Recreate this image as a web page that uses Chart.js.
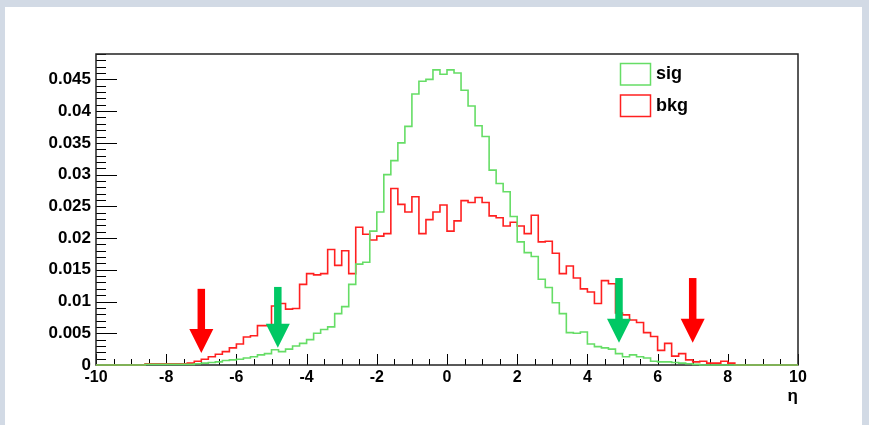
<!DOCTYPE html>
<html>
<head>
<meta charset="utf-8">
<script src="https://cdn.jsdelivr.net/npm/chart.js@4/dist/chart.umd.min.js"></script>
<style>
  html, body { margin: 0; padding: 0; background: #d2dae5; }
  #wrap { width: 869px; height: 425px; }
</style>
</head>
<body>
<div id="wrap"><canvas id="etaChart" width="869" height="425"></canvas></div>
<script>
// eta histograms, 100 bins from -10 to 10
const etaMin = -10;
const etaMax = 10;
const nBins = 100;

const sigValues = [
  0, 0, 0, 0, 0, 0, 0, 0.0001, 0.0001, 0.0001,
  0.0001, 0.0001, 0.0001, 0.0001, 0.0002, 0.0003, 0.0004, 0.0005, 0.0007, 0.0008,
  0.0009, 0.0011, 0.0013, 0.0016, 0.0018, 0.0024, 0.0021, 0.0025, 0.0030, 0.0034,
  0.0040, 0.0050, 0.0056, 0.0060, 0.0081, 0.0092, 0.0127, 0.0159, 0.0162, 0.0211,
  0.0241, 0.0300, 0.0322, 0.0350, 0.0376, 0.0427, 0.0447, 0.0450, 0.0465, 0.0458,
  0.0465, 0.0460, 0.0433, 0.0408, 0.0377, 0.0360, 0.0307, 0.0286, 0.0273, 0.0234,
  0.0194, 0.0177, 0.0171, 0.0135, 0.0122, 0.0098, 0.0081, 0.0051, 0.0050, 0.0052,
  0.0033, 0.0029, 0.0027, 0.0025, 0.0018, 0.0013, 0.0016, 0.0013, 0.0011, 0.0006,
  0.0005, 0.0005, 0.0004, 0.0003, 0.0002, 0.0001, 0, 0, 0, 0,
  0, 0, 0, 0, 0, 0, 0, 0, 0, 0
];

const bkgValues = [
  0, 0, 0, 0, 0, 0, 0, 0.0002, 0.0002, 0.0002,
  0.0002, 0.0002, 0.0002, 0.0003, 0.0006, 0.0009, 0.0013, 0.0017, 0.0021, 0.0027,
  0.0033, 0.0044, 0.0046, 0.0062, 0.0062, 0.0093, 0.0097, 0.0088, 0.0089, 0.0127,
  0.0144, 0.0142, 0.0144, 0.0182, 0.0157, 0.0180, 0.0144, 0.0217, 0.0206, 0.0197,
  0.0203, 0.0207, 0.0278, 0.0253, 0.0241, 0.0265, 0.0207, 0.0229, 0.0241, 0.0252,
  0.0211, 0.0227, 0.0259, 0.0256, 0.0264, 0.0256, 0.0235, 0.0232, 0.0219, 0.0225,
  0.0219, 0.0207, 0.0236, 0.0194, 0.0195, 0.0176, 0.0144, 0.0156, 0.0137, 0.0120,
  0.0115, 0.0097, 0.0133, 0.0128, 0.0082, 0.0079, 0.0071, 0.0067, 0.0051, 0.0045,
  0.0023, 0.0034, 0.0014, 0.0018, 0.0008, 0.0005, 0.0006, 0.0003, 0.0003, 0.0006,
  0.0003, 0, 0, 0, 0, 0, 0, 0, 0, 0
];

const seriesNames = ['sig', 'bkg'];
const seriesColors = ['#66dd66', '#ff2020'];

const yMax = 0.049;
const yTickValues = [0, 0.005, 0.01, 0.015, 0.02, 0.025, 0.03, 0.035, 0.04, 0.045];
const yTickLabels = ['0', '0.005', '0.01', '0.015', '0.02', '0.025', '0.03', '0.035', '0.04', '0.045'];
const xTickValues = [-10, -8, -6, -4, -2, 0, 2, 4, 6, 8, 10];

// cut markers
const arrowX = [-7.0, -4.82, 4.9, 7.0];
const arrowTop = [0.0120, 0.0123, 0.0137, 0.0137];
const arrowTip = [0.0019, 0.0027, 0.0035, 0.0035];
const arrowColors = ['#ff0000', '#00c864', '#00c864', '#ff0000'];

const labelFont = '"Liberation Sans", Arial, sans-serif';

function histPoints(values) {
    const w = (etaMax - etaMin) / nBins;
    const pts = values.map((v, i) => ({x: etaMin + i * w, y: v}));
    pts.push({x: etaMax, y: values[values.length - 1]});
    return pts;
}

const panelPlugin = {
    id: 'panel',
    beforeDraw(chart) {
        const ctx = chart.ctx;
        ctx.save();
        ctx.fillStyle = '#d2dae5';
        ctx.fillRect(0, 0, chart.width, chart.height);
        ctx.fillStyle = '#ffffff';
        ctx.fillRect(5, 7, chart.width - 12, chart.height - 7);
        ctx.restore();
    }
};

// frame with inward ticks, drawn under the histograms
const frameTicksPlugin = {
    id: 'frameTicks',
    beforeDatasetsDraw(chart) {
        const ctx = chart.ctx;
        const {left, right, top, bottom} = chart.chartArea;
        const xs = chart.scales.x, ys = chart.scales.y;
        ctx.save();
        ctx.strokeStyle = '#000';
        ctx.lineWidth = 1;
        ctx.beginPath();
        for (let i = 0; i * 0.001 <= yMax + 1e-9; i++) {
            const py = Math.round(ys.getPixelForValue(i * 0.001)) + 0.5;
            const len = (i % 5 === 0) ? 21 : 10;
            ctx.moveTo(left, py);
            ctx.lineTo(left + len, py);
        }
        for (let i = 0; i <= 40; i++) {
            const px = Math.round(xs.getPixelForValue(etaMin + i * 0.5)) + 0.5;
            const len = (i % 4 === 0) ? 11 : 6;
            ctx.moveTo(px, bottom);
            ctx.lineTo(px, bottom - len);
        }
        ctx.stroke();
        ctx.lineWidth = 1.5;
        ctx.strokeStyle = '#222';
        ctx.strokeRect(left, top, right - left, bottom - top);
        ctx.restore();
    },
    afterDraw(chart) {
        const ctx = chart.ctx;
        ctx.save();
        ctx.fillStyle = '#000';
        ctx.font = 'bold 17px ' + labelFont;
        ctx.textAlign = 'right';
        ctx.textBaseline = 'middle';
        ctx.fillText('\u03b7', chart.chartArea.right, 396);
        ctx.restore();
    }
};

const arrowsPlugin = {
    id: 'arrows',
    afterDatasetsDraw(chart) {
        const ctx = chart.ctx;
        const xs = chart.scales.x, ys = chart.scales.y;
        const head = 24, shaft = 7.5;
        ctx.save();
        arrowX.forEach((ax, i) => {
            const px = xs.getPixelForValue(ax);
            const yTop = ys.getPixelForValue(arrowTop[i]);
            const yTip = ys.getPixelForValue(arrowTip[i]);
            ctx.fillStyle = arrowColors[i];
            ctx.fillRect(px - shaft / 2, yTop, shaft, yTip - head - yTop + 1);
            ctx.beginPath();
            ctx.moveTo(px - head / 2, yTip - head);
            ctx.lineTo(px + head / 2, yTip - head);
            ctx.lineTo(px, yTip);
            ctx.closePath();
            ctx.fill();
        });
        ctx.restore();
    }
};

const legendPlugin = {
    id: 'boxLegend',
    afterDraw(chart) {
        const ctx = chart.ctx;
        ctx.save();
        ctx.font = 'bold 18px ' + labelFont;
        ctx.textBaseline = 'middle';
        ctx.fillStyle = '#000';
        chart.data.datasets.forEach((ds, i) => {
            const bx = 620.5, by = 63.5 + i * 31.5;
            ctx.strokeStyle = ds.borderColor;
            ctx.lineWidth = 1.5;
            ctx.strokeRect(bx, by, 30, 21.5);
            ctx.fillText(ds.label, 656, by + 11);
        });
        ctx.restore();
    }
};

const canvas = document.getElementById('etaChart');
new Chart(canvas, {
    type: 'line',
    data: {
        datasets: [sigValues, bkgValues].map((vals, i) => ({
            label: seriesNames[i],
            data: histPoints(vals),
            borderColor: seriesColors[i],
            borderWidth: 1.6,
            stepped: 'before',
            pointRadius: 0,
            fill: false,
            clip: 4
        }))
    },
    options: {
        responsive: false,
        animation: false,
        devicePixelRatio: 1,
        layout: {padding: {top: 54, right: 71, left: 0, bottom: 0}},
        plugins: {
            legend: {display: false},
            tooltip: {enabled: false}
        },
        scales: {
            x: {
                type: 'linear',
                min: etaMin,
                max: etaMax,
                afterBuildTicks: s => { s.ticks = xTickValues.map(v => ({value: v})); },
                afterFit: s => { s.height = 60; },
                grid: {display: false, drawTicks: false},
                border: {display: false},
                ticks: {
                    color: '#000',
                    padding: 3,
                    maxRotation: 0,
                    autoSkip: false,
                    font: {family: labelFont, size: 16, weight: 'bold'},
                    callback: v => String(v)
                }
            },
            y: {
                min: 0,
                max: yMax,
                afterBuildTicks: s => { s.ticks = yTickValues.map(v => ({value: v})); },
                afterFit: s => { s.width = 96; },
                grid: {display: false, drawTicks: false},
                border: {display: false},
                ticks: {
                    color: '#000',
                    padding: 5,
                    autoSkip: false,
                    font: {family: labelFont, size: 17, weight: 'bold'},
                    callback: (v, i) => yTickLabels[i]
                }
            }
        }
    },
    plugins: [panelPlugin, frameTicksPlugin, arrowsPlugin, legendPlugin]
});
</script>
</body>
</html>
